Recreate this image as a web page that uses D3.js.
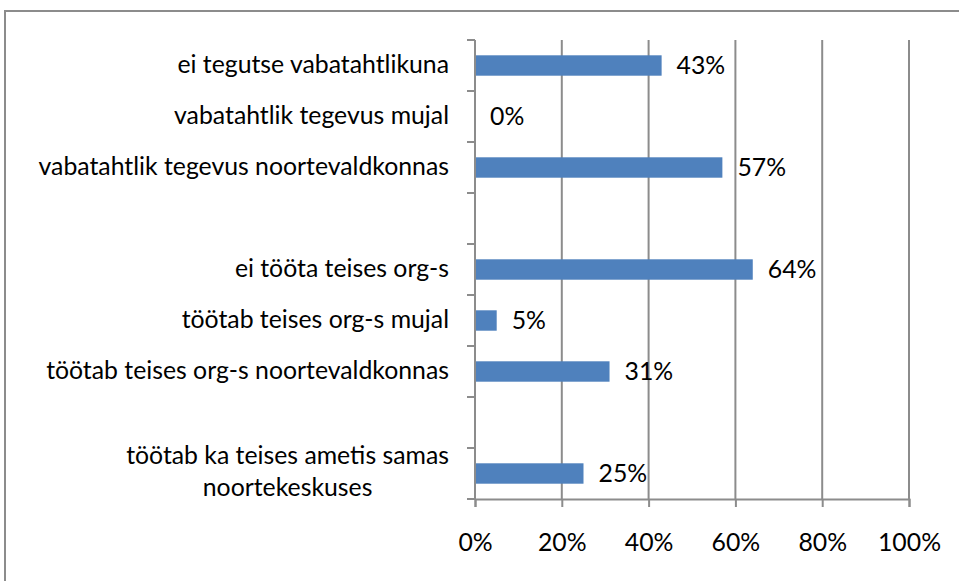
<!DOCTYPE html>
<html>
  <head>
    <script src="https://d3js.org/d3.v7.min.js"></script>
    <style>
      body { margin: 0; background: #fff; }
      text { font-family: Lato, "Open Sans", sans-serif; fill: #000; }
    </style>
  </head>
  <body>
    <script>
      var width = 959;
      var height = 581;
      var margin = {top: 40, left: 475, right: 50, bottom: 82};

      // categories top to bottom, [] = empty gap row
      var categories = [
        ["ei tegutse vabatahtlikuna"],
        ["vabatahtlik tegevus mujal"],
        ["vabatahtlik tegevus noortevaldkonnas"],
        [],
        ["ei tööta teises org-s"],
        ["töötab teises org-s mujal"],
        ["töötab teises org-s noortevaldkonnas"],
        [],
        ["töötab ka teises ametis samas", "noortekeskuses"]
      ];
      var values = [43, 0, 57, null, 64, 5, 31, null, 25];
      var tickLabels = [0, 20, 40, 60, 80, 100];

      var rows = categories.map(function(c, i) { return {id: i, lines: c, v: values[i]}; });

      var svg = d3.select("body")
        .append("svg")
        .attr("width", width)
        .attr("height", height);

      // pick a font size so the longest label is as wide as in the original
      var probe = svg.append("text").style("font-size", "20px").text(categories[2][0]);
      var fs = 20 * 411 / probe.node().getComputedTextLength();
      probe.remove();
      fs = Math.round(fs * 10) / 10 + "px";

      // outer chart border
      svg.append("path")
        .attr("d", "M5,590 L5,11 L970,11")
        .attr("fill", "none")
        .attr("stroke", "#8c8c8c")
        .attr("stroke-width", 2);

      var xScale = d3.scaleLinear()
        .domain([0, 100])
        .range([475, 909]);

      var yScale = d3.scaleBand()
        .domain(rows.map(function(d) { return d.id; }))
        .range([margin.top, 499])
        .paddingInner(0.6)
        .paddingOuter(0.3);

      var step = yScale.step();

      // vertical gridlines
      svg.selectAll("line.grid")
        .data(tickLabels.slice(1))
        .enter()
        .append("line")
          .attr("class", "grid")
          .attr("x1", function(d) { return xScale(d); })
          .attr("x2", function(d) { return xScale(d); })
          .attr("y1", margin.top)
          .attr("y2", 499)
          .attr("stroke", "#8c8c8c")
          .attr("stroke-width", 2);

      // bars
      svg.selectAll("rect.bar")
        .data(rows.filter(function(d) { return d.v !== null; }))
        .enter()
        .append("rect")
          .attr("class", "bar")
          .attr("x", xScale(0))
          .attr("y", function(d) { return yScale(d.id); })
          .attr("width", function(d) { return xScale(d.v) - xScale(0); })
          .attr("height", yScale.bandwidth())
          .attr("fill", "#4f81bd");

      // value labels
      svg.selectAll("text.val")
        .data(rows.filter(function(d) { return d.v !== null; }))
        .enter()
        .append("text")
          .attr("class", "val")
          .attr("x", function(d) { return xScale(d.v) + 15; })
          .attr("y", function(d) { return yScale(d.id) + yScale.bandwidth() / 2 + 2; })
          .attr("dominant-baseline", "middle")
          .style("font-size", fs)
          .text(function(d) { return d.v + "%"; });

      // x axis
      var xAxis = svg.append("g")
        .attr("transform", "translate(0,499)")
        .call(d3.axisBottom(xScale)
          .tickValues(tickLabels)
          .tickSize(8)
          .tickPadding(26)
          .tickFormat(function(d) { return d + "%"; }));
      xAxis.select(".domain").attr("stroke", "#8c8c8c").attr("stroke-width", 2);
      xAxis.selectAll(".tick line").attr("stroke", "#8c8c8c").attr("stroke-width", 2);
      xAxis.selectAll("text").style("font-size", fs).style("font-family", null);

      // y axis: line with ticks at row boundaries
      var bounds = d3.range(rows.length + 1).map(function(i) { return margin.top + i * step; });
      svg.append("line")
        .attr("x1", xScale(0)).attr("x2", xScale(0))
        .attr("y1", margin.top).attr("y2", 499)
        .attr("stroke", "#8c8c8c").attr("stroke-width", 2);
      svg.selectAll("line.ytick")
        .data(bounds)
        .enter()
        .append("line")
          .attr("class", "ytick")
          .attr("x1", xScale(0) - 8).attr("x2", xScale(0))
          .attr("y1", function(d) { return d; }).attr("y2", function(d) { return d; })
          .attr("stroke", "#8c8c8c").attr("stroke-width", 2);

      // category labels
      var catG = svg.selectAll("g.cat")
        .data(rows.filter(function(d) { return d.lines.length; }))
        .enter()
        .append("g")
          .attr("class", "cat");

      catG.each(function(d) {
        var cy = margin.top + (d.id + 0.5) * step;
        var g = d3.select(this);
        if (d.lines.length === 1) {
          g.append("text")
            .attr("x", 449)
            .attr("y", cy + 1)
            .attr("text-anchor", "end")
            .attr("dominant-baseline", "middle")
            .style("font-size", fs)
            .text(d.lines[0]);
        } else {
          var t = g.selectAll("text")
            .data(d.lines)
            .enter()
            .append("text")
              .attr("y", function(l, i) { return cy - 16 + i * 32; })
              .attr("text-anchor", "middle")
              .attr("dominant-baseline", "middle")
              .style("font-size", fs)
              .text(function(l) { return l; });
          var w = d3.max(t.nodes(), function(n) { return n.getComputedTextLength(); });
          t.attr("x", 449 - w / 2);
        }
      });
    </script>
  </body>
</html>
